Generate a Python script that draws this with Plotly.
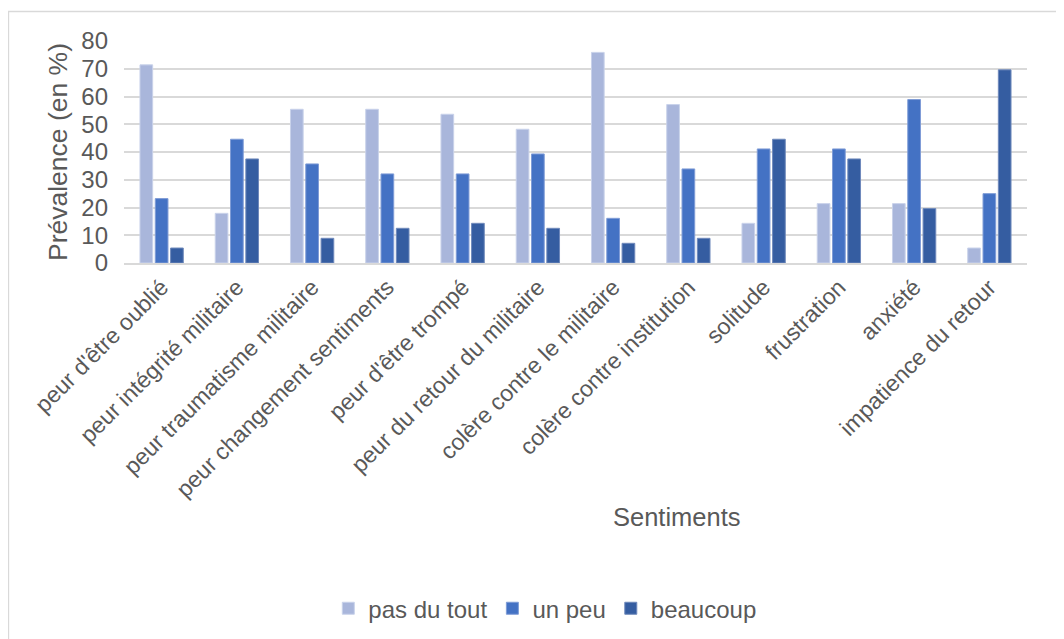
import plotly.graph_objects as go

# sentiments (x categories)
categories = [
    "peur d'être oublié",
    "peur intégrité militaire",
    "peur traumatisme militaire",
    "peur changement sentiments",
    "peur d'être trompé",
    "peur du retour du militaire",
    "colère contre le militaire",
    "colère contre institution",
    "solitude",
    "frustration",
    "anxiété",
    "impatience du retour",
]

# prevalence in % for each answer
pas_du_tout = [71.4, 17.9, 55.4, 55.4, 53.6, 48.2, 75.9, 57.1, 14.3, 21.4, 21.4, 5.4]
un_peu = [23.2, 44.6, 35.7, 32.1, 32.1, 39.3, 16.1, 33.9, 41.1, 41.1, 58.9, 25.0]
beaucoup = [5.4, 37.5, 8.9, 12.5, 14.3, 12.5, 7.1, 8.9, 44.6, 37.5, 19.6, 69.6]

y_ticks = [0, 10, 20, 30, 40, 50, 60, 70, 80]

text_color = "#595959"
grid_color = "#D9D9D9"
font_family = "Liberation Sans, Arial, sans-serif"

fig = go.Figure()
fig.add_trace(go.Bar(x=categories, y=pas_du_tout, name="pas du tout",
                     marker=dict(color="#A9B6DB", line=dict(color="#C9D2EA", width=1))))
fig.add_trace(go.Bar(x=categories, y=un_peu, name="un peu",
                     marker=dict(color="#4472C4", line=dict(color="#7F9CD6", width=1))))
fig.add_trace(go.Bar(x=categories, y=beaucoup, name="beaucoup",
                     marker=dict(color="#355DA1", line=dict(color="#6F89BB", width=1))))

# page body adds an 8px offset, so the figure is 8px smaller than the window
fig.update_layout(
    width=1056,
    height=631,
    barmode="group",
    bargap=0.39,
    bargroupgap=0.17,
    plot_bgcolor="white",
    paper_bgcolor="white",
    font=dict(family=font_family, color=text_color, size=23),
    margin=dict(l=116, r=37, t=33, b=376, autoexpand=False),
    showlegend=True,
    legend=dict(
        orientation="h",
        x=0.466, xanchor="center",
        y=-1.557, yanchor="middle",
        font=dict(size=24, color=text_color),
        itemwidth=30,
        traceorder="normal",
    ),
    annotations=[
        dict(text="Sentiments", xref="paper", yref="paper",
             x=0.612, y=-1.144, xanchor="center", yanchor="middle",
             showarrow=False, font=dict(size=25.5, color=text_color)),
    ],
    shapes=[
        dict(type="rect", xref="paper", yref="paper",
             x0=-0.128, y0=-2.5, x1=1.2, y1=1.133,
             line=dict(color=grid_color, width=1.5), fillcolor="rgba(0,0,0,0)",
             layer="below"),
    ],
)

fig.update_xaxes(
    tickangle=-45,
    tickfont=dict(size=23, color=text_color),
    showline=True, linecolor=grid_color, linewidth=1.5,
    showgrid=False,
    ticks="",
    automargin=False,
)

fig.update_yaxes(
    range=[0, 80],
    tickvals=y_ticks,
    tickfont=dict(size=24, color=text_color),
    showgrid=True, gridcolor=grid_color, gridwidth=1.5,
    zeroline=False,
    showline=False,
    ticks="",
    ticklabelstandoff=15,
    automargin=False,
    title=dict(text="Prévalence (en %)", font=dict(size=26.5, color=text_color), standoff=6),
)

fig.write_html("out.html")
